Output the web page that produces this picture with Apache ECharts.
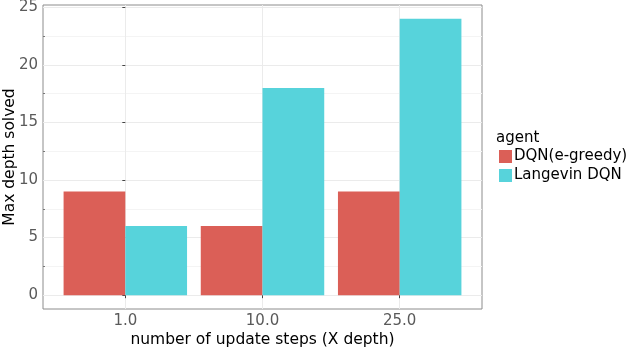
<!DOCTYPE html>
<html>
<head>
<meta charset="utf-8">
<script src="https://cdn.jsdelivr.net/npm/echarts@6/dist/echarts.min.js"></script>
<style>
  html, body { margin: 0; padding: 0; background: #fff; }
  #chart { width: 632px; height: 348px; }
</style>
</head>
<body>
<div id="chart"></div>
<script>
var categories = ['1.0', '10.0', '25.0'];
var dqnValues = [9, 6, 9];
var langevinValues = [6, 18, 24];
var yTicks = [0, 5, 10, 15, 20, 25];
var yMinorTicks = [2.5, 7.5, 12.5, 17.5, 22.5];
var xTicks = [0, 1, 2];

function init_chart() {
  var chart = echarts.init(document.getElementById('chart'));
  var font = 'DejaVu Sans, sans-serif';

  chart.setOption({
    animation: false,
    textStyle: { fontFamily: font },
    title: {
      text: 'agent',
      left: 496,
      top: 131,
      padding: 0,
      textStyle: { fontFamily: font, fontSize: 15, fontWeight: 'normal', color: '#000' }
    },
    legend: {
      orient: 'vertical',
      left: 499,
      top: 149,
      padding: 0,
      itemGap: 4,
      itemWidth: 13,
      itemHeight: 13,
      icon: 'rect',
      textStyle: { fontFamily: font, fontSize: 15, color: '#000', padding: [0, 0, 0, -3] },
      data: ['DQN(e-greedy)', 'Langevin DQN']
    },
    grid: {
      left: 43, right: 150, top: 5, bottom: 39,
      outerBoundsMode: 'none',
      containLabel: false,
      show: true,
      borderColor: '#8c8c8c',
      borderWidth: 1
    },
    xAxis: {
      type: 'value',
      min: -0.6,
      max: 2.6,
      name: 'number of update steps (X depth)',
      nameLocation: 'middle',
      nameGap: 23,
      nameMoveOverlap: false,
      nameTextStyle: { fontFamily: font, fontSize: 15.5, color: '#000' },
      axisLine: { show: false },
      axisTick: { customValues: xTicks, length: 3, lineStyle: { color: '#444' } },
      axisLabel: {
        customValues: xTicks,
        fontFamily: font, fontSize: 15, color: '#5a5a5a', margin: 5,
        formatter: function (v) { return categories[Math.round(v)]; }
      },
      splitLine: { show: true, lineStyle: { color: '#ebebeb' } }
    },
    yAxis: [{
      type: 'value',
      min: -1.2,
      max: 25.2,
      position: 'left',
      name: 'Max depth solved',
      nameLocation: 'middle',
      nameGap: 25,
      nameMoveOverlap: false,
      nameTextStyle: { fontFamily: font, fontSize: 15.5, color: '#000' },
      axisLine: { show: false },
      axisTick: { customValues: yTicks, length: 3, lineStyle: { color: '#444' } },
      axisLabel: { customValues: yTicks, fontFamily: font, fontSize: 15, color: '#5a5a5a', margin: 5 },
      splitLine: { show: true, lineStyle: { color: '#ebebeb' } }
    }, {
      // minor grid
      type: 'value',
      min: -1.2,
      max: 25.2,
      position: 'left',
      axisLine: { show: false },
      axisTick: { customValues: yMinorTicks, length: 2, inside: true, lineStyle: { color: '#777' } },
      axisLabel: { show: false },
      splitLine: { show: true, lineStyle: { color: '#f4f4f4' } }
    }],
    series: [{
      name: 'DQN(e-greedy)',
      type: 'bar',
      barWidth: '45%',
      barGap: '0%',
      itemStyle: { color: '#db5f57' },
      data: dqnValues.map(function (v, i) { return [i, v]; })
    }, {
      name: 'Langevin DQN',
      type: 'bar',
      barWidth: '45%',
      barGap: '0%',
      itemStyle: { color: '#57d3db' },
      data: langevinValues.map(function (v, i) { return [i, v]; })
    }]
  });
}

init_chart();
</script>
</body>
</html>
